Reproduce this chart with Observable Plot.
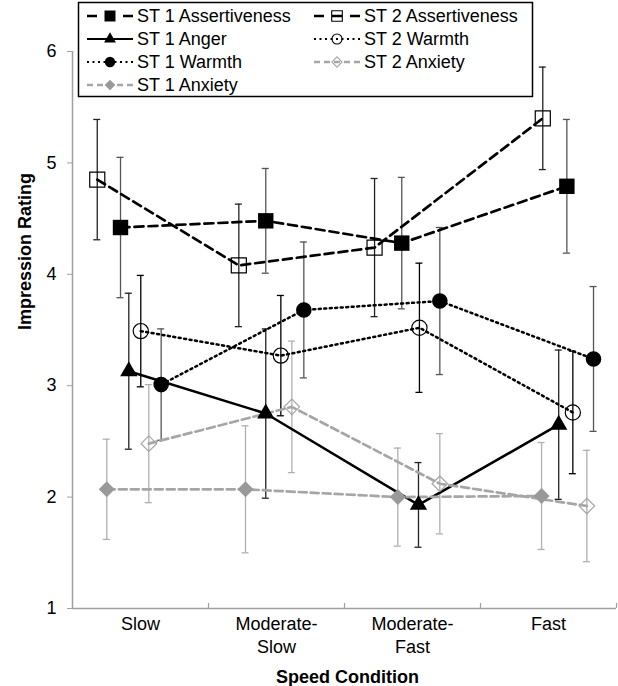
<!DOCTYPE html>
<html><head><meta charset="utf-8">
<script src="https://cdn.jsdelivr.net/npm/d3@7"></script>
<script src="https://cdn.jsdelivr.net/npm/@observablehq/plot@0.6"></script>
<style>
body{margin:0;background:#fff;}
#wrap{position:relative;width:618px;height:686px;font-family:"Liberation Sans",Arial,sans-serif;}
#legend{position:absolute;left:0;top:0;pointer-events:none;}
</style></head><body><div id="wrap"></div>
<script>
const categories = ["Slow", "Moderate-Slow", "Moderate-Fast", "Fast"];
const yTicks = [1, 2, 3, 4, 5, 6];

// means
const st1Assertiveness = [4.42, 4.48, 4.28, 4.79];
const st2Assertiveness = [4.85, 4.08, 4.24, 5.40];
const st1Anger = [3.13, 2.75, 1.93, 2.65];
const st2Warmth = [3.49, 3.27, 3.52, 2.76];
const st1Warmth = [3.01, 3.68, 3.76, 3.24];
const st2Anxiety = [2.48, 2.81, 2.12, 1.92];
const st1Anxiety = [2.07, 2.07, 2.00, 2.01];

// error bar half-widths
const st1AssertivenessErr = [0.63, 0.47, 0.59, 0.60];
const st2AssertivenessErr = [0.54, 0.55, 0.62, 0.46];
const st1AngerErr = [0.70, 0.76, 0.38, 0.67];
const st2WarmthErr = [0.50, 0.54, 0.58, 0.55];
const st1WarmthErr = [0.50, 0.61, 0.66, 0.65];
const st2AnxietyErr = [0.53, 0.59, 0.45, 0.50];
const st1AnxietyErr = [0.45, 0.57, 0.44, 0.48];

// horizontal jitter within each category (category units)
const st1AssertivenessOff = [-0.147, -0.079, -0.079, 0.135];
const st2AssertivenessOff = [-0.318, -0.277, -0.279, -0.042];
const st1AngerOff = [-0.086, -0.079, 0.044, 0.075];
const st2WarmthOff = [0.002, 0.032, 0.051, 0.179];
const st1WarmthOff = [0.152, 0.201, 0.201, 0.331];
const st2AnxietyOff = [0.061, 0.113, 0.201, 0.282];
const st1AnxietyOff = [-0.248, -0.228, -0.108, -0.051];

const series = [
  {name: "ST 1 Assertiveness", mean: st1Assertiveness, err: st1AssertivenessErr, off: st1AssertivenessOff,
   line: "#000", dash: "9,5", lw: 2.7, symbol: "square", r: 8.7, fill: "#000", mstroke: "none", errColor: "#555", lsym: 6.2},
  {name: "ST 2 Assertiveness", mean: st2Assertiveness, err: st2AssertivenessErr, off: st2AssertivenessOff,
   line: "#000", dash: "9,5", lw: 2.7, symbol: "square", r: 8.5, fill: "none", mstroke: "#000", errColor: "#222", lsym: 6.0},
  {name: "ST 1 Anger", mean: st1Anger, err: st1AngerErr, off: st1AngerOff,
   line: "#000", dash: null, lw: 2.5, symbol: "triangle", r: 6.4, fill: "#000", mstroke: "none", errColor: "#222", lsym: 4.4},
  {name: "ST 2 Warmth", mean: st2Warmth, err: st2WarmthErr, off: st2WarmthOff,
   line: "#000", dash: "2,3.5", lw: 2.5, symbol: "circle", r: 7.6, fill: "none", mstroke: "#000", errColor: "#000", lsym: 5},
  {name: "ST 1 Warmth", mean: st1Warmth, err: st1WarmthErr, off: st1WarmthOff,
   line: "#000", dash: "2,3.5", lw: 2.5, symbol: "circle", r: 7.8, fill: "#000", mstroke: "none", errColor: "#555", lsym: 5.2},
  {name: "ST 2 Anxiety", mean: st2Anxiety, err: st2AnxietyErr, off: st2AnxietyOff,
   line: "#a6a6a6", dash: "8,4", lw: 2.7, symbol: "diamond2", r: 7.0, fill: "none", mstroke: "#a6a6a6", errColor: "#b0b0b0", lsym: 4.6},
  {name: "ST 1 Anxiety", mean: st1Anxiety, err: st1AnxietyErr, off: st1AnxietyOff,
   line: "#a6a6a6", dash: "8,4", lw: 2.7, symbol: "diamond2", r: 7.2, fill: "#999", mstroke: "none", errColor: "#b0b0b0", lsym: 4.8}
];

const axisGray = "#a0a0a0";

const marks = [
  Plot.ruleX([0], {y1: 1, y2: 6, stroke: axisGray, strokeWidth: 1.5}),
  Plot.ruleY([1], {x1: 0, x2: 4, stroke: axisGray, strokeWidth: 1.5}),
  Plot.ruleX([1, 2, 3, 4], {y1: 1, y2: 1, insetTop: -5, stroke: axisGray, strokeWidth: 1.2}),
  Plot.axisY({ticks: yTicks, tickFormat: d => String(d), tickSize: 5, tickPadding: 11, stroke: axisGray, fill: "#000", label: null, fontSize: 18}),
  Plot.text(categories, {x: (d, i) => i + 0.5, y: 1, text: d => d.replace("-", "-\n"), lineAnchor: "top", dy: 6, fontSize: 18, lineHeight: 1.25, fill: "#000"}),
  Plot.text(["Impression Rating"], {frameAnchor: "left", lineAnchor: "middle", rotate: -90, dx: -47, fontSize: 18, fontWeight: "bold", fill: "#000"}),
  Plot.text(["Speed Condition"], {frameAnchor: "bottom", lineAnchor: "middle", dy: 69, dx: 3, fontSize: 18, fontWeight: "bold", fill: "#000"})
];

const rowsBy = series.map(s => s.mean.map((m, i) => ({
  name: s.name, x: i + 0.5 + s.off[i], y: m, lo: m - s.err[i], hi: m + s.err[i]
})));

series.forEach((s, k) => {
  const rows = rowsBy[k];
  marks.push(Plot.ruleX(rows, {x: "x", y1: "lo", y2: "hi", stroke: s.errColor, strokeWidth: 1.3}));
  marks.push(Plot.ruleY(rows, {y: "hi", x1: "x", x2: "x", insetLeft: -3.5, insetRight: -3.5, stroke: s.errColor, strokeWidth: 1.3}));
  marks.push(Plot.ruleY(rows, {y: "lo", x1: "x", x2: "x", insetLeft: -3.5, insetRight: -3.5, stroke: s.errColor, strokeWidth: 1.3}));
});
series.forEach((s, k) => {
  const opts = {x: "x", y: "y", stroke: s.line, strokeWidth: s.lw};
  if (s.dash) opts.strokeDasharray = s.dash;
  marks.push(Plot.line(rowsBy[k], opts));
});
series.forEach((s, k) => {
  marks.push(Plot.dot(rowsBy[k], {x: "x", y: "y", symbol: () => s.symbol, r: s.r, fill: s.fill,
    stroke: s.mstroke, strokeWidth: s.fill === "none" ? 1.2 : 0}));
});

const chart = Plot.plot({
  width: 618, height: 686,
  marginLeft: 72, marginRight: 2, marginTop: 51, marginBottom: 78,
  x: {domain: [0, 4], axis: null},
  y: {domain: [1, 6], axis: null},
  symbol: {type: "identity"},
  style: {fontFamily: "'Liberation Sans', Arial, sans-serif", fontSize: "18px", background: "#fff", color: "#000"},
  marks
});
const wrap = document.getElementById("wrap");
wrap.appendChild(chart);

// legend overlay
const leg = d3.select(wrap).append("svg").attr("id", "legend").attr("width", 618).attr("height", 100)
  .style("font-family", "'Liberation Sans', Arial, sans-serif");
leg.append("rect").attr("x", 78.5).attr("y", 2.5).attr("width", 454).attr("height", 94)
  .attr("fill", "#fff").attr("stroke", "#000").attr("stroke-width", 1.5);
const symMap = {square: d3.symbolSquare, triangle: d3.symbolTriangle, circle: d3.symbolCircle, diamond2: d3.symbolDiamond2};
const legendLayout = [
  {name: "ST 1 Assertiveness", col: 0, row: 0},
  {name: "ST 1 Anger", col: 0, row: 1},
  {name: "ST 1 Warmth", col: 0, row: 2},
  {name: "ST 1 Anxiety", col: 0, row: 3},
  {name: "ST 2 Assertiveness", col: 1, row: 0},
  {name: "ST 2 Warmth", col: 1, row: 1},
  {name: "ST 2 Anxiety", col: 1, row: 2}
];
const legendDash = {"9,5": "10,8", "2,3.5": "2,3.5", "8,4": "6,4"};
legendLayout.forEach(item => {
  const s = series.find(d => d.name === item.name);
  const x0 = item.col === 0 ? 87 : 314;
  const yc = 16 + item.row * 23;
  const g = leg.append("g");
  const ln = g.append("line").attr("x1", x0).attr("x2", x0 + 46).attr("y1", yc).attr("y2", yc)
    .attr("stroke", s.line).attr("stroke-width", s.lw - 0.3);
  if (s.dash) ln.attr("stroke-dasharray", legendDash[s.dash]);
  const size = Math.PI * s.lsym * s.lsym;
  g.append("path").attr("d", d3.symbol(symMap[s.symbol], size)())
    .attr("transform", `translate(${x0 + 23},${yc})`)
    .attr("fill", s.fill).attr("stroke", s.mstroke).attr("stroke-width", s.fill === "none" ? 1.1 : 0);
  g.append("text").attr("x", x0 + 50).attr("y", yc).attr("dy", "0.35em").attr("font-size", 18)
    .attr("fill", "#000").text(s.name);
});
</script></body></html>
